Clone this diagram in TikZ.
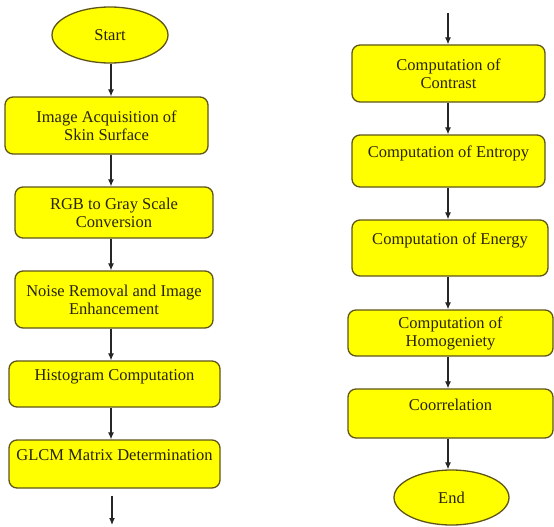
\documentclass[tikz,border=0pt]{standalone}
\usepackage{fontspec}
\setmainfont{Liberation Serif}
\usetikzlibrary{shapes.geometric,arrows.meta,calc}
\definecolor{boxfill}{RGB}{255,255,0}
\definecolor{boxline}{RGB}{95,85,25}
\definecolor{txt}{RGB}{40,35,10}
\tikzset{
  procbox/.style={draw=boxline, fill=boxfill, line width=1.3pt, rounded corners=8pt,
    align=center, font=\fontsize{16.5}{18}\selectfont, text=txt, inner sep=0pt},
  termnode/.style={ellipse, draw=boxline, fill=boxfill, line width=1.3pt,
    font=\fontsize{16.5}{18}\selectfont, text=txt, inner sep=0pt},
  arr/.style={-{Latex[length=7pt,width=6pt]}, line width=1.1pt, draw=black!85}
}
\begin{document}
\begin{tikzpicture}[x=1pt,y=-1pt]
\useasboundingbox (0,0) rectangle (554,527);
% left column
\node[termnode, minimum width=116pt, minimum height=56pt] (start) at (110,35) {Start};
\node[procbox, minimum width=203pt, minimum height=57pt] (b1) at (106.5,125.5) {Image Acquisition of\\Skin Surface};
\node[procbox, minimum width=198pt, minimum height=51pt] (b2) at (114,212.5) {RGB to Gray Scale\\Conversion};
\node[procbox, minimum width=198pt, minimum height=57pt] (b3) at (114,299.5) {Noise Removal and Image\\Enhancement};
\node[procbox, minimum width=211pt, minimum height=46pt] (b4) at (114.5,384) {Histogram Computation\\\mbox{}};
\node[procbox, minimum width=211pt, minimum height=48pt] (b5) at (114.5,464) {GLCM Matrix Determination\\\mbox{}};
\coordinate (colL) at (111,0);
\coordinate (outL) at (112,525);
% right column
\coordinate (inR) at (448,13);
\node[procbox, minimum width=193pt, minimum height=57pt] (r1) at (448.5,73.5) {Computation of\\Contrast};
\node[procbox, minimum width=193pt, minimum height=52pt] (r2) at (448.5,161) {Computation of Entropy\\\mbox{}};
\node[procbox, minimum width=196pt, minimum height=56pt] (r3) at (450,248) {Computation of Energy\\\mbox{}};
\node[procbox, minimum width=205pt, minimum height=46pt] (r4) at (450.5,333) {Computation of\\Homogeniety};
\node[procbox, minimum width=205pt, minimum height=49pt] (r5) at (450.5,413.5) {Coorrelation\\\mbox{}};
\node[termnode, minimum width=115pt, minimum height=55pt] (end) at (451.5,497.5) {End};
\coordinate (colR) at (448,0);
% connectors left
\draw[arr] (start.south -| colL) -- (b1.north -| colL);
\draw[arr] (b1.south -| colL) -- (b2.north -| colL);
\draw[arr] (b2.south -| colL) -- (b3.north -| colL);
\draw[arr] (b3.south -| colL) -- (b4.north -| colL);
\draw[arr] (b4.south -| colL) -- (b5.north -| colL);
\draw[arr] ($(b5.south -| outL)+(0,7)$) -- (outL);
% connectors right
\draw[arr] (inR) -- (r1.north -| inR);
\draw[arr] (r1.south -| colR) -- (r2.north -| colR);
\draw[arr] (r2.south -| colR) -- (r3.north -| colR);
\draw[arr] (r3.south -| colR) -- (r4.north -| colR);
\draw[arr] (r4.south -| colR) -- (r5.north -| colR);
\draw[arr] (r5.south -| colR) -- (end.north -| colR);
\end{tikzpicture}
\end{document}
